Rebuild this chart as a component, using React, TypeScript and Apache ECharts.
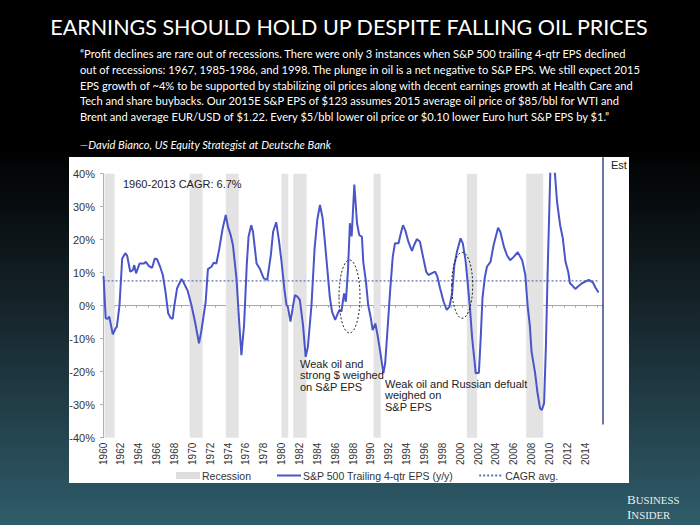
import React, { useEffect, useRef } from "react";
import * as echarts from "echarts";

const epsYears = [
  1960.06, 1960.3, 1960.5, 1960.7, 1961.1, 1961.4, 1961.55, 1961.85, 1962.15, 1962.5, 1962.7,
  1963.05, 1963.35, 1963.5, 1963.7, 1964.1, 1964.6, 1964.8, 1965.15, 1965.5, 1965.8, 1966.05,
  1966.4, 1966.7, 1967.0, 1967.3, 1967.55, 1967.8, 1968.0, 1968.3, 1968.8, 1968.95, 1969.25,
  1969.5, 1969.9, 1970.3, 1970.75, 1971.0, 1971.5, 1971.75, 1972.15, 1972.4, 1972.7, 1973.0,
  1973.4, 1973.75, 1974.0, 1974.3, 1974.55, 1974.95, 1975.2, 1975.5, 1975.8, 1976.1, 1976.3,
  1976.6, 1976.8, 1977.2, 1977.55, 1978.0, 1978.4, 1978.8, 1979.05, 1979.4, 1979.7, 1980.0,
  1980.3, 1980.55, 1980.7, 1981.0, 1981.3, 1981.5, 1981.8, 1982.05, 1982.4, 1982.7, 1982.95,
  1983.35, 1983.7, 1984.0, 1984.3, 1984.6, 1984.85, 1985.15, 1985.4, 1985.65, 1986.0, 1986.3,
  1986.5, 1986.7, 1987.0, 1987.2, 1987.45, 1987.65, 1987.85, 1988.15, 1988.45, 1988.7, 1989.0,
  1989.15, 1989.45, 1989.7, 1990.0, 1990.2, 1990.5, 1990.75, 1991.05, 1991.4, 1991.6, 1991.85,
  1992.15, 1992.45, 1992.7, 1993.1, 1993.35, 1993.6, 1993.85, 1994.2, 1994.6, 1994.85, 1995.15,
  1995.5, 1995.8, 1996.2, 1996.45, 1996.8, 1997.2, 1997.45, 1997.75, 1998.15, 1998.5, 1998.8,
  1999.1, 1999.35, 1999.65, 2000.05, 2000.3, 2000.6, 2000.8, 2001.1, 2001.35, 2001.75, 2002.1,
  2002.3, 2002.5, 2002.75, 2003.0, 2003.4, 2003.75, 2004.25, 2004.5, 2004.9, 2005.25, 2005.6,
  2006.0, 2006.45, 2006.95, 2007.3, 2007.55, 2007.8, 2008.0, 2008.4, 2008.65, 2008.95, 2009.15,
  2009.4, 2009.6, 2009.8, 2010.1, 2010.3, 2010.6, 2010.85, 2011.2, 2011.5, 2011.8, 2012.1,
  2012.3, 2012.5, 2012.9, 2013.2, 2013.65, 2014.4, 2014.85, 2015.15, 2015.5,
];

const epsValues = [
  9.0, -3.8, -4.0, -3.3, -8.7, -6.9, -6.4, 0.2, 14.3, 15.9, 15.2,
  10.3, 10.8, 12.3, 9.8, 12.8, 12.8, 13.3, 12.0, 11.5, 14.3, 14.1,
  11.8, 9.3, 4.2, -2.3, -3.6, -4.0, 0.2, 5.3, 8.1, 7.5, 5.8,
  4.4, 0.2, -4.8, -11.4, -7.9, 1.2, 11.1, 11.8, 13.0, 12.8, 16.9,
  23.4, 27.5, 23.9, 21.4, 18.4, 8.3, -2.8, -15.0, -5.9, 12.3, 20.9,
  24.4, 22.4, 12.8, 11.3, 8.3, 7.8, 15.4, 22.4, 25.3, 19.9, 13.3,
  5.3, 0.2, -0.3, -4.8, 0.2, 3.2, 2.7, 1.7, -5.9, -15.5, -12.4,
  0.2, 17.4, 26.0, 30.5, 26.5, 19.4, 10.3, 2.7, -1.8, -4.3, -2.3,
  -1.3, -1.8, 3.7, 1.2, 11.3, 25.0, 21.0, 36.7, 25.0, 21.4, 20.9,
  13.3, 7.3, 0.2, -3.8, -7.4, -5.4, -8.9, -13.9, -20.5, -17.5, -7.9,
  4.2, 14.8, 18.9, 18.9, 21.9, 24.4, 22.9, 19.4, 16.6, 18.4, 20.2,
  19.4, 15.4, 10.3, 9.3, 9.8, 10.3, 8.8, 5.3, 1.2, -1.3, -0.3,
  3.7, 12.3, 16.4, 20.4, 18.9, 13.8, 8.3, -0.8, -9.9, -20.5, -20.3,
  -9.9, 2.2, 8.3, 11.8, 13.3, 18.4, 23.6, 22.4, 17.9, 15.2, 13.8,
  14.8, 16.2, 13.8, 9.3, 0.2, -5.9, -13.9, -20.5, -26.1, -31.1, -31.6,
  -29.6, -12.9, 10.3, 40.6, 58.0, 40.6, 31.5, 24.4, 20.4, 13.3, 10.3,
  6.8, 6.3, 5.1, 5.8, 6.8, 7.8, 7.1, 5.5, 4.0,
];

const recessionStart = [1960.17, 1969.7, 1973.75, 1980.0, 1981.3, 1990.3, 2000.75, 2007.4];
const recessionEnd = [1961.3, 1971.15, 1975.2, 1980.75, 1982.8, 1991.1, 2001.9, 2009.3];

const cagrYears = [1960.06, 2015.6];
const cagrValues = [7.5, 7.5];

const estYears = [2016, 2016];
const estValues = [45, -36];

const yTicks = [-40, -30, -20, -10, 0, 10, 20, 30, 40];
const xLabelYears = [1960, 1962, 1964, 1966, 1968, 1970, 1972, 1974, 1976, 1978, 1980, 1982, 1984,
  1986, 1988, 1990, 1992, 1994, 1996, 1998, 2000, 2002, 2004, 2006, 2008, 2010, 2012, 2014];

const SERIES_EPS = "S&P 500 Trailing 4-qtr EPS (y/y)";
const SERIES_REC = "Recession";
const SERIES_CAGR = "CAGR avg.";

const quoteLines = [
  "“Profit declines are rare out of recessions. There were only 3 instances when S&P 500 trailing 4-qtr EPS declined",
  "out of recessions: 1967, 1985-1986, and 1998. The plunge in oil is a net negative to S&P EPS. We still expect 2015",
  "EPS growth of ~4% to be supported by stabilizing oil prices along with decent earnings growth at Health Care and",
  "Tech and share buybacks. Our 2015E S&P EPS of $123 assumes 2015 average oil price of $85/bbl for WTI and",
  "Brent and average EUR/USD of $1.22. Every $5/bbl lower oil price or $0.10 lower Euro hurt S&P EPS by $1.”",
];

const ARIAL = "'Liberation Sans', Arial, sans-serif";
const CAL = "Lato, 'Open Sans', sans-serif";

export default function App() {
  const ref = useRef<HTMLDivElement>(null);

  useEffect(() => {
    if (!ref.current) return;
    const chart = echarts.init(ref.current, undefined, { renderer: "svg" });

    const epsData = epsYears.map((y, i) => [y, epsValues[i]]);
    const cagrData = cagrYears.map((y, i) => [y, cagrValues[i]]);
    const estData = estYears.map((y, i) => [y, estValues[i]]);
    const recAreas = recessionStart.map((s, i) => [{ xAxis: s }, { xAxis: recessionEnd[i] }]);

    const annText = (x: number, y: number, text: string, extra: any = {}) => ({
      type: "text",
      z: 100,
      x,
      y,
      style: {
        text,
        fill: "#222",
        fontSize: 11,
        lineHeight: 11.5,
        fontFamily: ARIAL,
        textVerticalAlign: "top",
        ...extra,
      },
    });

    const option: any = {
      animation: false,
      backgroundColor: {
        type: "linear",
        x: 0, y: 0, x2: 0, y2: 1,
        colorStops: [
          { offset: 0, color: "#000000" },
          { offset: 0.28, color: "#000000" },
          { offset: 0.6, color: "#16262c" },
          { offset: 1, color: "#2f5c6a" },
        ],
      },
      grid: { left: 103, right: 97, top: 173.7, bottom: 87.3, containLabel: false },
      xAxis: [
        {
          type: "value",
          min: 1960,
          max: 2016,
          interval: 2,
          position: "bottom",
          axisLine: { show: false, onZero: false },
          axisTick: { show: false },
          splitLine: { show: false },
          axisLabel: {
            rotate: 90,
            margin: 5,
            fontSize: 10,
            fontFamily: ARIAL,
            color: "#333",
            showMaxLabel: false,
            formatter: (v: number) => (xLabelYears.indexOf(v) >= 0 ? String(v) : ""),
          },
        },
        {
          type: "value",
          min: 1960,
          max: 2015.6,
          interval: 1.25,
          position: "bottom",
          axisLine: { show: true, onZero: true, lineStyle: { color: "#a8a8a8", width: 1 } },
          axisTick: { show: true, length: 2, lineStyle: { color: "#a8a8a8" } },
          axisLabel: { show: false },
          splitLine: { show: false },
        },
      ],
      yAxis: {
        type: "value",
        min: -40,
        max: 40,
        interval: 10,
        axisLine: { show: true, lineStyle: { color: "#b0b0b0" } },
        axisTick: { show: true, length: 3, lineStyle: { color: "#b0b0b0" } },
        splitLine: { show: false },
        axisLabel: {
          margin: 8,
          fontSize: 11,
          fontFamily: ARIAL,
          color: "#333",
          formatter: (v: number) => (yTicks.indexOf(v) >= 0 ? v + "%" : ""),
        },
      },
      legend: {
        left: 171,
        top: 465,
        itemWidth: 24,
        itemHeight: 7,
        itemGap: 25,
        textStyle: { fontSize: 10.5, fontFamily: ARIAL, color: "#333", padding: [0, 0, 0, -3] },
        data: [
          { name: SERIES_REC, icon: "rect", itemStyle: { color: "#dedede" } },
          { name: SERIES_EPS, itemStyle: { opacity: 0 } },
          { name: SERIES_CAGR, itemStyle: { opacity: 0 } },
        ],
        selectedMode: false,
      },
      series: [
        {
          name: SERIES_REC,
          type: "line",
          data: [],
          symbol: "none",
          silent: true,
          itemStyle: { color: "#dedede" },
          lineStyle: { color: "#dedede" },
          markArea: {
            silent: true,
            itemStyle: { color: "#e3e3e3" },
            data: recAreas,
          },
          z: 1,
        },
        {
          name: SERIES_CAGR,
          type: "line",
          data: cagrData,
          symbol: "none",
          lineStyle: { color: "#5f73b0", width: 1.2, type: [2, 2] },
          itemStyle: { color: "#5f73b0" },
          z: 2,
        },
        {
          name: SERIES_EPS,
          type: "line",
          data: epsData,
          symbol: "none",
          clip: true,
          lineStyle: { color: "#4a55c8", width: 2 },
          itemStyle: { color: "#4a55c8" },
          z: 3,
        },
        {
          name: "Est",
          type: "line",
          data: estData,
          symbol: "none",
          clip: false,
          lineStyle: { color: "#3c4688", width: 1.5 },
          itemStyle: { color: "#3c4688" },
          z: 3,
        },
      ],
      graphic: [
        {
          type: "rect",
          z: -10,
          shape: { x: 69, y: 157, width: 560, height: 326 },
          style: { fill: "#ffffff" },
        },
        {
          type: "text",
          z: 100,
          x: 349,
          y: 27,
          style: {
            text: "EARNINGS SHOULD HOLD UP DESPITE FALLING OIL PRICES",
            fill: "#ffffff",
            fontSize: 21.5,
            fontFamily: CAL,
            textAlign: "center",
            textVerticalAlign: "middle",
          },
        },
        {
          type: "text",
          z: 100,
          x: 80,
          y: 46,
          style: {
            text: quoteLines.join("\n"),
            fill: "#ffffff",
            fontSize: 11.15,
            lineHeight: 15.7,
            fontFamily: CAL,
            textAlign: "left",
            textVerticalAlign: "top",
          },
        },
        {
          type: "text",
          z: 100,
          x: 80,
          y: 144,
          style: {
            text: "—David Bianco, US Equity Strategist at Deutsche Bank",
            fill: "#ffffff",
            fontSize: 11.15,
            fontStyle: "italic",
            fontFamily: CAL,
            textAlign: "left",
            textVerticalAlign: "middle",
          },
        },
        annText(123, 183.5, "1960-2013 CAGR: 6.7%", { textVerticalAlign: "middle" }),
        annText(300, 358, "Weak oil and\nstrong $ weighed\non S&P EPS"),
        annText(385, 378, "Weak oil and Russian defualt\nweighed on\nS&P EPS"),
        annText(611, 165, "Est", { textVerticalAlign: "middle" }),
        {
          type: "ellipse",
          z: 100,
          shape: { cx: 349.5, cy: 296.5, rx: 10.5, ry: 36.5 },
          style: { fill: "none", stroke: "#222", lineWidth: 1, lineDash: [2, 2] },
        },
        {
          type: "ellipse",
          z: 100,
          shape: { cx: 462.2, cy: 285.3, rx: 10.5, ry: 33 },
          style: { fill: "none", stroke: "#222", lineWidth: 1, lineDash: [2, 2] },
        },
        {
          type: "text",
          z: 100,
          x: 627,
          y: 492,
          style: {
            text: "{a|B}{b|USINESS}\n{a|I}{b|NSIDER}",
            fill: "#e8eef0",
            fontFamily: "'Liberation Serif', 'DejaVu Serif', serif",
            textVerticalAlign: "top",
            rich: {
              a: { fontSize: 13, fill: "#e8eef0", fontFamily: "'Liberation Serif', serif", lineHeight: 15 },
              b: { fontSize: 10.8, fill: "#e8eef0", fontFamily: "'Liberation Serif', serif", lineHeight: 15 },
            },
          },
        },
      ],
    };

    chart.setOption(option);
    return () => chart.dispose();
  }, []);

  return (
    <div
      ref={ref}
      style={{ position: "fixed", left: 0, top: 0, width: 700, height: 525 }}
    />
  );
}
